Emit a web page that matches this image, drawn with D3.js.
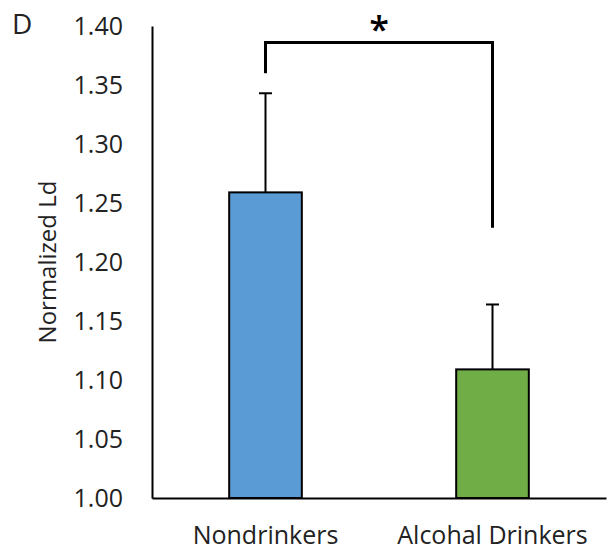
<!DOCTYPE html>
<html><head><meta charset="utf-8">
<script src="https://cdn.jsdelivr.net/npm/d3@7"></script>
<style>body{margin:0;background:#fff}svg{display:block}</style>
</head><body>
<script>
const categories = ["Nondrinkers", "Alcohal Drinkers"];
const means = [1.259, 1.109];
const errors = [0.084, 0.055];
const colors = ["#5b9bd5", "#70ad47"];
const yTicks = [1.00, 1.05, 1.10, 1.15, 1.20, 1.25, 1.30, 1.35, 1.40];
const bracketTop = 1.386;
const bracketLeftEnd = 1.360;
const bracketRightEnd = 1.229;
const sigLabel = "*";

const W = 610, H = 555;
const m = {left:152, right:4, top:26, bottom:57};
const svg = d3.select("body").append("svg").attr("width", W).attr("height", H);
const font = "'Open Sans', sans-serif";

const x = d3.scaleBand().domain(categories).range([m.left, W - m.right]).paddingInner(0.68).paddingOuter(0.34);
const y = d3.scaleLinear().domain([1.0, 1.4]).range([H - m.bottom, m.top]);

// bars
svg.selectAll("rect.bar").data(categories).enter().append("rect")
  .attr("x", d => x(d)).attr("width", x.bandwidth())
  .attr("y", (d,i) => y(means[i])).attr("height", (d,i) => y(1.0) - y(means[i]))
  .attr("fill", (d,i) => colors[i]).attr("stroke", "#000").attr("stroke-width", 2);

// error bars
categories.forEach((c,i) => {
  const cx = x(c) + x.bandwidth()/2;
  svg.append("line").attr("x1", cx).attr("x2", cx).attr("y1", y(means[i])).attr("y2", y(means[i]+errors[i]))
    .attr("stroke", "#000").attr("stroke-width", 2);
  svg.append("line").attr("x1", cx-6.5).attr("x2", cx+6.5).attr("y1", y(means[i]+errors[i])).attr("y2", y(means[i]+errors[i]))
    .attr("stroke", "#000").attr("stroke-width", 2);
});

// axes
const yAxis = d3.axisLeft(y).tickValues(yTicks).tickFormat(d3.format(".2f")).tickSize(0).tickPadding(29);
const gy = svg.append("g").attr("transform", `translate(${m.left},0)`).call(yAxis);
gy.select(".domain").attr("stroke", "#000").attr("stroke-width", 2);
gy.selectAll("text").attr("font-family", font).attr("font-size", 25).attr("fill", "#222");

const xAxis = d3.axisBottom(x).tickSize(0).tickPadding(28);
const gx = svg.append("g").attr("transform", `translate(0,${y(1.0)})`).call(xAxis);
gx.select(".domain").attr("stroke", "#000").attr("stroke-width", 2);
gx.selectAll("text").attr("font-family", font).attr("font-size", 25).attr("fill", "#222");

// y label
svg.append("text").attr("transform", `translate(56,${(m.top + H - m.bottom)/2}) rotate(-90)`)
  .attr("text-anchor", "middle").attr("font-family", font).attr("font-size", 24).attr("fill", "#222")
  .text("Normalized Ld");

// panel letter
svg.append("text").attr("x", 12).attr("y", 34).attr("font-family", font).attr("font-size", 28).attr("fill", "#222").text("D");

// significance bracket
const x0 = x(categories[0]) + x.bandwidth()/2, x1 = x(categories[1]) + x.bandwidth()/2;
svg.append("path")
  .attr("d", d3.line()([[x0, y(bracketTop)], [x1, y(bracketTop)]]))
  .attr("fill", "none").attr("stroke", "#000").attr("stroke-width", 3);
svg.append("path")
  .attr("d", d3.line()([[x0, y(bracketLeftEnd)], [x0, y(bracketTop) - 1.5]]))
  .attr("fill", "none").attr("stroke", "#000").attr("stroke-width", 3);
svg.append("path")
  .attr("d", d3.line()([[x1, y(bracketTop) - 1.5], [x1, y(bracketRightEnd)]]))
  .attr("fill", "none").attr("stroke", "#000").attr("stroke-width", 3);
svg.append("text").attr("x", (x0+x1)/2).attr("y", y(bracketTop) - 1).attr("text-anchor", "middle")
  .attr("font-family", font).attr("font-size", 36).attr("font-weight", 600).attr("fill", "#000").text(sigLabel);
</script>
</body></html>
